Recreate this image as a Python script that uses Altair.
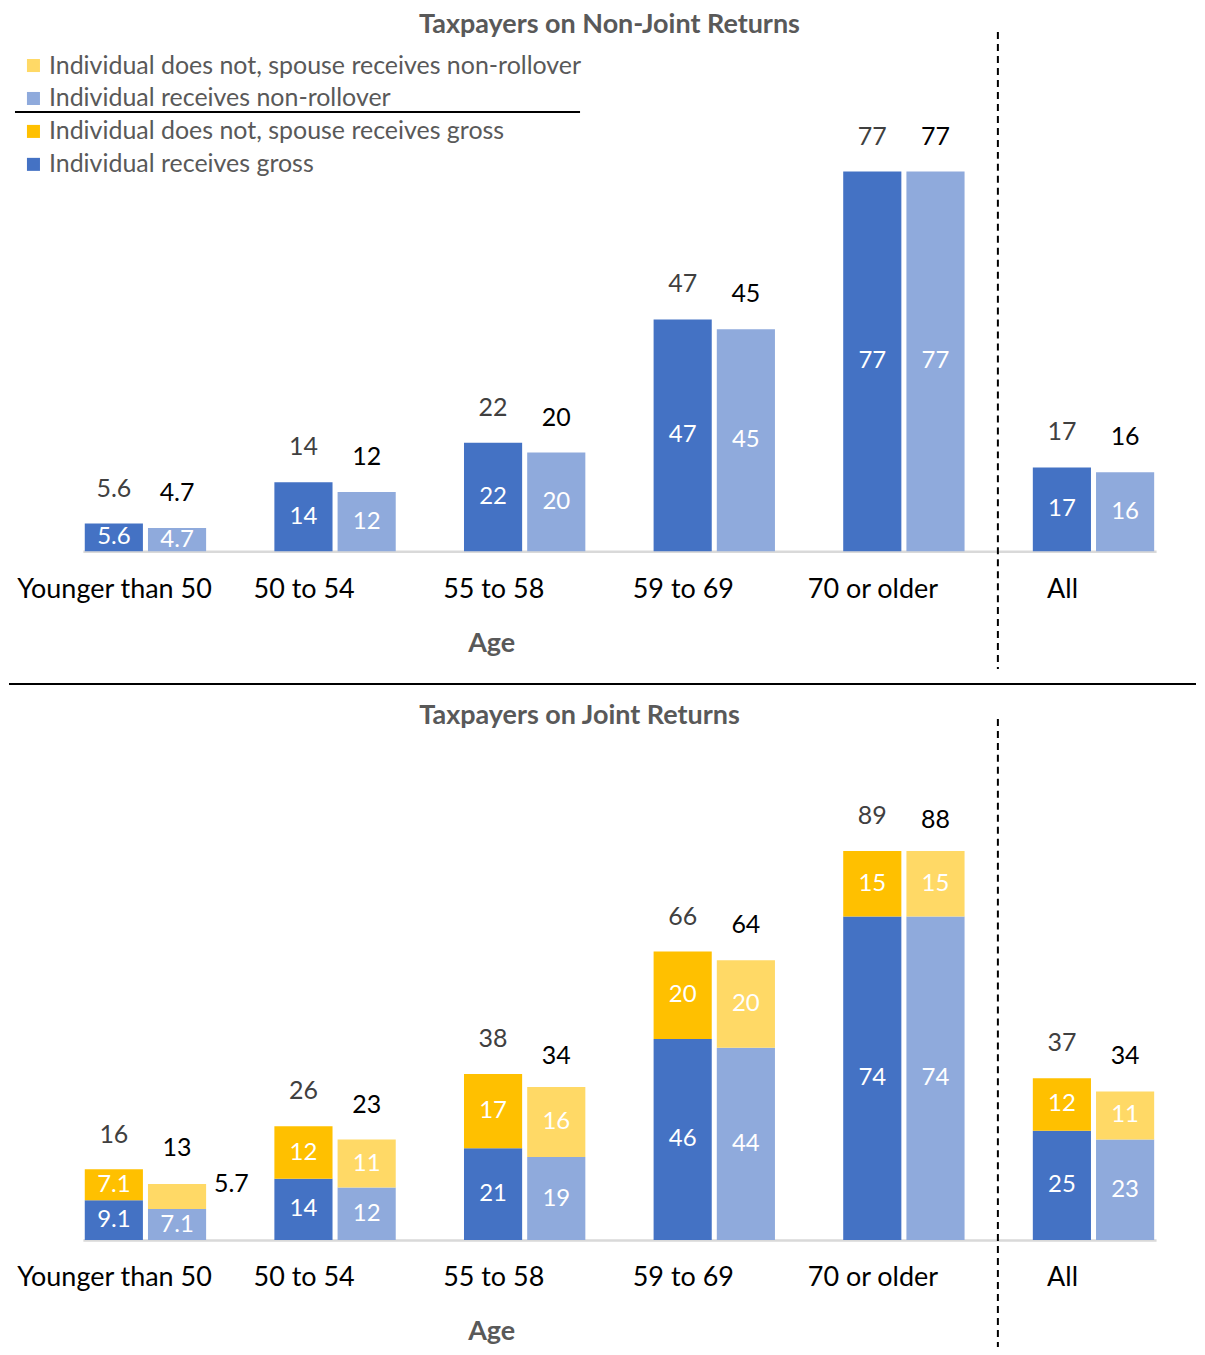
import altair as alt
import pandas as pd

# ---------------- data ----------------
ages = ["Younger than 50", "50 to 54", "55 to 58", "59 to 69", "70 or older", "All"]

# Non-joint returns
nj_gross = [5.6, 14, 22, 47, 77, 17]
nj_nonroll = [4.7, 12, 20, 45, 77, 16]

# Joint returns
j_ind_gross = [9.1, 14, 21, 46, 74, 25]
j_sp_gross = [7.1, 12, 17, 20, 15, 12]
j_tot_gross = [16, 26, 38, 66, 89, 37]
j_ind_nonroll = [7.1, 12, 19, 44, 74, 23]
j_sp_nonroll = [5.7, 11, 16, 20, 15, 11]
j_tot_nonroll = [13, 23, 34, 64, 88, 34]

series_names = [
    "Individual does not, spouse receives non-rollover",
    "Individual receives non-rollover",
    "Individual does not, spouse receives gross",
    "Individual receives gross",
]
series_colors = ["#FFD966", "#8FAADC", "#FFC000", "#4472C4"]

FONT = "Lato"
GRAY = "#595959"


def fmt(v):
    return f"{v:g}"


# ---------------- tables ----------------
nj_rows = []
for i, a in enumerate(ages):
    nj_rows.append(dict(age=a, measure="gross", value=nj_gross[i], label=fmt(nj_gross[i]),
                        series=series_names[3]))
    nj_rows.append(dict(age=a, measure="nonroll", value=nj_nonroll[i], label=fmt(nj_nonroll[i]),
                        series=series_names[1]))
nj_df = pd.DataFrame(nj_rows)

j_rows = []
for i, a in enumerate(ages):
    j_rows.append(dict(age=a, measure="gross", part=1, value=j_ind_gross[i],
                       label=fmt(j_ind_gross[i]), series=series_names[3], out=False))
    j_rows.append(dict(age=a, measure="gross", part=2, value=j_sp_gross[i],
                       label=fmt(j_sp_gross[i]), series=series_names[2], out=False))
    j_rows.append(dict(age=a, measure="nonroll", part=1, value=j_ind_nonroll[i],
                       label=fmt(j_ind_nonroll[i]), series=series_names[1], out=False))
    j_rows.append(dict(age=a, measure="nonroll", part=2, value=j_sp_nonroll[i],
                       label=fmt(j_sp_nonroll[i]), series=series_names[0],
                       out=bool(j_sp_nonroll[i] < 6)))
j_df = pd.DataFrame(j_rows)

jt_rows = []
for i, a in enumerate(ages):
    jt_rows.append(dict(age=a, measure="gross", value=j_tot_gross[i], label=fmt(j_tot_gross[i])))
    jt_rows.append(dict(age=a, measure="nonroll", value=j_tot_nonroll[i], label=fmt(j_tot_nonroll[i])))
jt_df = pd.DataFrame(jt_rows)

# ---------------- shared encodings ----------------
color_scale = alt.Scale(domain=series_names, range=series_colors)


def x_enc():
    return alt.X(
        "age:N",
        sort=ages,
        scale=alt.Scale(paddingInner=0.36, paddingOuter=0.01),
        axis=alt.Axis(
            title="Age", labelAngle=0, labelOffset=-31, ticks=False, labelLimit=400,
            domainColor="#d9d9d9", domainWidth=2.5, grid=False,
            labelFont=FONT, labelFontSize=27, labelColor="black", labelPadding=25,
            titleFont=FONT, titleFontSize=27, titleColor=GRAY, titleFontWeight="bold",
            titleX=409, titlePadding=28,
        ),
    )


xoff = alt.XOffset("measure:N", sort=["gross", "nonroll"],
                   scale=alt.Scale(paddingInner=0.08, paddingOuter=0))

total_color = alt.condition(alt.datum.measure == "gross", alt.value("#404040"), alt.value("black"))

# ---------------- top panel ----------------
TOP_H = 494
top_y = alt.Y("value:Q", scale=alt.Scale(domain=[0, 100], nice=False), axis=None)

top_base = alt.Chart(nj_df)
top_bars = top_base.mark_bar().encode(
    x=x_enc(), xOffset=xoff, y=top_y,
    color=alt.Color("series:N", scale=color_scale,
                    legend=alt.Legend(title=None, orient="none", legendX=-62, legendY=-5,
                                      symbolType="square", symbolSize=170, symbolStrokeWidth=0,
                                      labelFont=FONT, labelFontSize=25, labelColor=GRAY,
                                      labelOffset=3, rowPadding=7, labelLimit=800)),
)
top_inside = top_base.transform_calculate(mid="datum.value/2").mark_text(
    font=FONT, fontSize=24, color="white", baseline="middle"
).encode(x=x_enc(), xOffset=xoff, y=alt.Y("mid:Q", scale=alt.Scale(domain=[0, 100], nice=False), axis=None),
         text="label:N")
top_total = top_base.mark_text(font=FONT, fontSize=25, baseline="middle", dy=-35).encode(
    x=x_enc(), xOffset=xoff, y=top_y, text="label:N", color=total_color)

top_dash = alt.Chart(pd.DataFrame({"age": ["All"]})).mark_rule(
    color="black", strokeWidth=2, strokeDash=[7, 5], xOffset=-35
).encode(x=alt.X("age:N", sort=ages, bandPosition=0), y=alt.value(-26), y2=alt.value(612))

sep = pd.DataFrame({"k": ["a"]})
top_sep = alt.Chart(sep).mark_rule(color="black", strokeWidth=2).encode(
    x=alt.value(-74), x2=alt.value(1115), y=alt.value(627))
legend_sep = alt.Chart(sep).mark_rule(color="black", strokeWidth=2).encode(
    x=alt.value(-68), x2=alt.value(498), y=alt.value(54))

top = alt.layer(top_bars, top_inside, top_total, top_dash, top_sep, legend_sep).properties(
    width=1075, height=TOP_H,
    title=alt.TitleParams("Taxpayers on Non-Joint Returns", font=FONT, fontSize=27,
                          fontWeight="bold", color=GRAY, frame="group", dx=-10, offset=-8),
)

# ---------------- bottom panel ----------------
BOT_H = 438
bscale = alt.Scale(domain=[0, 100], nice=False)
stacked = alt.Chart(j_df).transform_stack(
    stack="value", groupby=["age", "measure"], as_=["y0", "y1"], sort=[alt.SortField("part")]
).transform_calculate(mid="(datum.y0 + datum.y1) / 2")

bot_bars = stacked.mark_bar().encode(
    x=x_enc(), xOffset=xoff,
    y=alt.Y("y0:Q", scale=bscale, axis=None), y2="y1:Q",
    color=alt.Color("series:N", scale=color_scale, legend=None),
)
bot_inside = stacked.transform_filter("!datum.out").mark_text(
    font=FONT, fontSize=24, color="white", baseline="middle"
).encode(x=x_enc(), xOffset=xoff, y=alt.Y("mid:Q", scale=bscale, axis=None), text="label:N")
bot_out = stacked.transform_filter("datum.out").mark_text(
    font=FONT, fontSize=25, color="black", baseline="middle", align="left", dx=37
).encode(x=x_enc(), xOffset=xoff, y=alt.Y("y1:Q", scale=bscale, axis=None), text="label:N")
bot_total = alt.Chart(jt_df).mark_text(font=FONT, fontSize=25, baseline="middle", dy=-35).encode(
    x=x_enc(), xOffset=xoff, y=alt.Y("value:Q", scale=bscale, axis=None), text="label:N",
    color=total_color)
bot_dash = alt.Chart(pd.DataFrame({"age": ["All"]})).mark_rule(
    color="black", strokeWidth=2, strokeDash=[7, 5], xOffset=-35
).encode(x=alt.X("age:N", sort=ages, bandPosition=0), y=alt.value(-84), y2=alt.value(545))

bottom = alt.layer(bot_bars, bot_inside, bot_out, bot_total, bot_dash).properties(
    width=1075, height=BOT_H,
    title=alt.TitleParams("Taxpayers on Joint Returns", font=FONT, fontSize=27,
                          fontWeight="bold", color=GRAY, frame="group", dx=-40, offset=-12),
)

chart = alt.vconcat(top, bottom, spacing=17).resolve_scale(x="independent").properties(
    padding={"left": 0, "top": 2, "right": 0, "bottom": 0}
).configure_view(stroke=None)

chart.save("out.html", embed_options={"renderer": "svg", "actions": False})
